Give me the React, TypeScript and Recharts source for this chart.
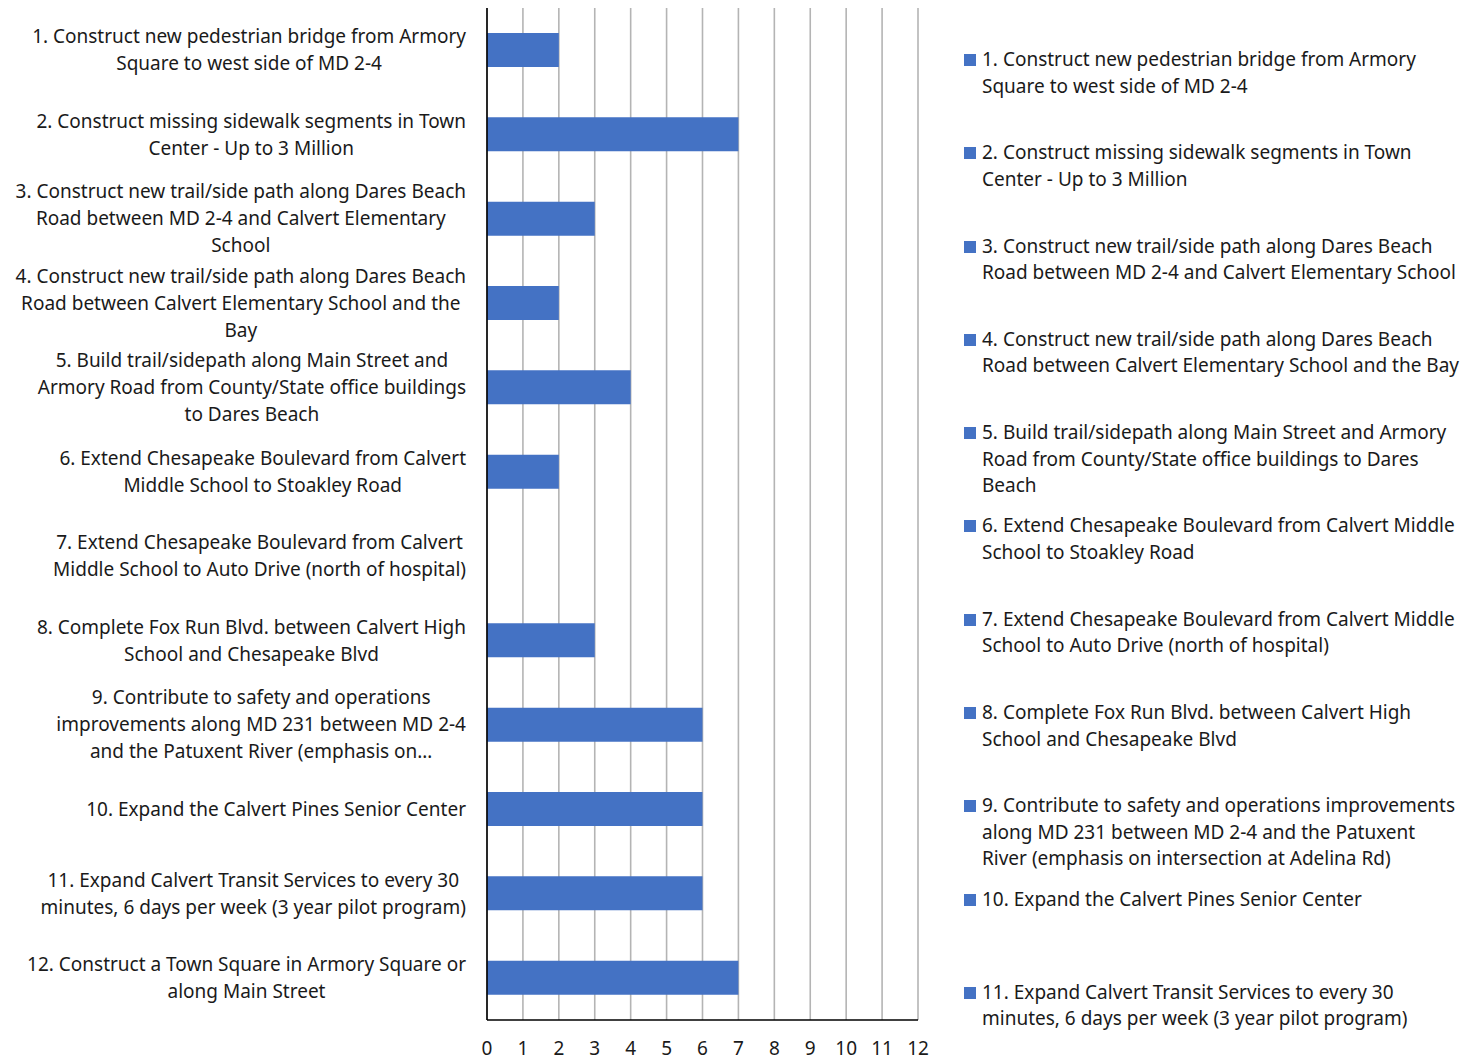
import { BarChart, Bar, XAxis, YAxis, CartesianGrid } from "recharts";

// values
const scores = [2, 7, 3, 2, 4, 2, 0, 3, 6, 6, 6, 7];

// y axis labels, wrapped the way the picture wraps them
const axisLabels = [
  "1. Construct new pedestrian bridge from Armory\nSquare to west side of MD 2-4",
  "2. Construct missing sidewalk segments in Town\nCenter - Up to 3 Million",
  "3. Construct new trail/side path along Dares Beach\nRoad between MD 2-4 and Calvert Elementary\nSchool",
  "4. Construct new trail/side path along Dares Beach\nRoad between Calvert Elementary School and the\nBay",
  "5. Build trail/sidepath along Main Street and\nArmory Road from County/State office buildings\nto Dares Beach",
  "6. Extend Chesapeake Boulevard from Calvert\nMiddle School to Stoakley Road",
  "7. Extend Chesapeake Boulevard from Calvert\nMiddle School to Auto Drive (north of hospital)",
  "8. Complete Fox Run Blvd. between Calvert High\nSchool and Chesapeake Blvd",
  "9. Contribute to safety and operations\nimprovements along MD 231 between MD 2-4\nand the Patuxent River (emphasis on…",
  "10. Expand the Calvert Pines Senior Center",
  "11. Expand Calvert Transit Services to every 30\nminutes, 6 days per week (3 year pilot program)",
  "12. Construct a Town Square in Armory Square or\nalong Main Street",
];

// legend entries (only the first 11 fit in the original)
const legendLabels = [
  "1. Construct new pedestrian bridge from Armory\nSquare to west side of MD 2-4",
  "2. Construct missing sidewalk segments in Town\nCenter - Up to 3 Million",
  "3. Construct new trail/side path along Dares Beach\nRoad between MD 2-4 and Calvert Elementary School",
  "4. Construct new trail/side path along Dares Beach\nRoad between Calvert Elementary School and the Bay",
  "5. Build trail/sidepath along Main Street and Armory\nRoad from County/State office buildings to Dares\nBeach",
  "6. Extend Chesapeake Boulevard from Calvert Middle\nSchool to Stoakley Road",
  "7. Extend Chesapeake Boulevard from Calvert Middle\nSchool to Auto Drive (north of hospital)",
  "8. Complete Fox Run Blvd. between Calvert High\nSchool and Chesapeake Blvd",
  "9. Contribute to safety and operations improvements\nalong MD 231 between MD 2-4 and the Patuxent\nRiver (emphasis on intersection at Adelina Rd)",
  "10. Expand the Calvert Pines Senior Center",
  "11. Expand Calvert Transit Services to every 30\nminutes, 6 days per week (3 year pilot program)",
];

const xTicks = [0, 1, 2, 3, 4, 5, 6, 7, 8, 9, 10, 11, 12];

const data = scores.map((v, i) => ({ name: axisLabels[i], value: v }));

const FONT = "'Noto Sans', sans-serif";
const FONT_SIZE = 19;
const BLUE = "#4472C4";
const TEXT = "#1a1a1a";

let ctx: CanvasRenderingContext2D | null = null;
function textWidth(s: string) {
  if (!ctx) ctx = document.createElement("canvas").getContext("2d");
  if (!ctx) return s.length * 9.5;
  ctx.font = `${FONT_SIZE}px 'Noto Sans'`;
  return ctx.measureText(s).width;
}

// multi-line label, lines centred on each other, widest line right-aligned
function WrappedTick(props: any) {
  const { x, y, payload } = props;
  const lines = String(payload.value).split("\n");
  const lh = 27;
  const start = -((lines.length - 1) * lh) / 2;
  const right = x - 13;
  const maxW = Math.max(...lines.map(textWidth));
  const cx = right - maxW / 2;
  return (
    <text
      x={cx}
      y={y}
      textAnchor="middle"
      fill={TEXT}
      fontSize={FONT_SIZE}
      fontFamily={FONT}
    >
      {lines.map((l, i) => (
        <tspan key={i} x={cx} y={y + start + i * lh} dy="0.35em">
          {l}
        </tspan>
      ))}
    </text>
  );
}

export default function App() {
  return (
    <div
      style={{
        position: "absolute",
        left: 0,
        top: 0,
        width: 1471,
        height: 1060,
        background: "#fff",
        fontFamily: FONT,
      }}
    >
      <BarChart
        width={930}
        height={1060}
        data={data}
        layout="vertical"
        margin={{ top: 8, right: 12, bottom: 0, left: 0 }}
        barSize={34}
      >
        <CartesianGrid horizontal={false} stroke="#b4b4b4" strokeWidth={1.6} />
        <XAxis
          type="number"
          domain={[0, 12]}
          ticks={xTicks}
          interval={0}
          height={40}
          axisLine={{ stroke: "#000", strokeWidth: 1.6 }}
          tickLine={false}
          tick={{ fill: TEXT, fontSize: FONT_SIZE, fontFamily: FONT }}
          tickMargin={16}
        />
        <YAxis
          type="category"
          dataKey="name"
          width={487}
          interval={0}
          axisLine={{ stroke: "#000", strokeWidth: 1.6 }}
          tickLine={false}
          tick={<WrappedTick />}
        />
        <Bar dataKey="value" fill={BLUE} isAnimationActive={false} />
      </BarChart>
      <div style={{ position: "absolute", left: 964, top: 46, width: 507 }}>
        {legendLabels.map((label, i) => (
          <div
            key={i}
            style={{ height: 93.3, display: "flex", alignItems: "flex-start" }}
          >
            <div
              style={{
                width: 12,
                height: 12,
                background: BLUE,
                marginTop: 8,
                marginRight: 6,
                flex: "none",
              }}
            />
            <div
              style={{
                fontSize: FONT_SIZE,
                lineHeight: "26.5px",
                color: TEXT,
                whiteSpace: "pre",
              }}
            >
              {label}
            </div>
          </div>
        ))}
      </div>
    </div>
  );
}
